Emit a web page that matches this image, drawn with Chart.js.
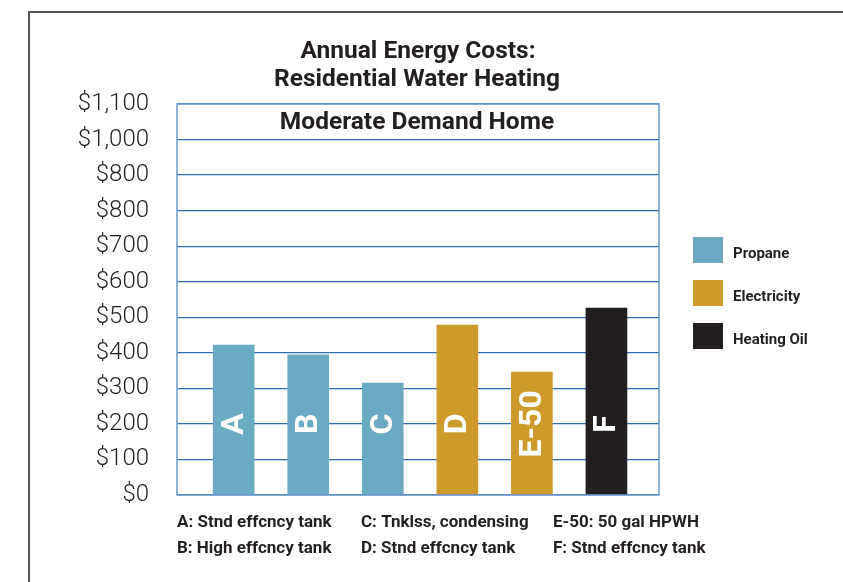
<!DOCTYPE html>
<html>
<head>
<meta charset="utf-8">
<title>Annual Energy Costs: Residential Water Heating</title>
<script src="https://cdn.jsdelivr.net/npm/chart.js@4.4.0/dist/chart.umd.min.js"></script>
<style>
    html, body { margin: 0; padding: 0; background: #ffffff; }
    #chart { display: block; }
</style>
</head>
<body>
<canvas id="chart" width="843" height="582"></canvas>
<script>
    'use strict';

    // chart data
    const categories = ['A', 'B', 'C', 'D', 'E-50', 'F'];
    const fuels = ['Propane', 'Propane', 'Propane', 'Electricity', 'Electricity', 'Heating Oil'];
    const annualCost = [422, 394, 315, 478, 346, 526];

    const fuelTypes = ['Propane', 'Electricity', 'Heating Oil'];
    const fuelColors = ['#6aabc3', '#cd9a2b', '#231f20'];

    // tick labels as printed (the $900 line is labelled $800 in the original)
    const yTickLabels = ['$0', '$100', '$200', '$300', '$400', '$500', '$600', '$700', '$800', '$800', '$1,000', '$1,100'];

    const titleLines = ['Annual Energy Costs:', 'Residential Water Heating'];
    const subTitle = 'Moderate Demand Home';
    const footnotes = [
        ['A: Stnd effcncy tank', 'B: High effcncy tank'],
        ['C: Tnklss, condensing', 'D: Stnd effcncy tank'],
        ['E-50: 50 gal HPWH', 'F: Stnd effcncy tank']
    ];

    const textColor = '#231f20';
    const gridBlue = '#2f6db0';
    const frameBlue = '#6b9acb';
    const font = 'Roboto, "Liberation Sans", sans-serif';

    let barColors = fuels.map(function (f) {
        return fuelColors[fuelTypes.indexOf(f)];
    });

    let decorations = {
        id: 'decorations',
        beforeDraw: function (chart) {
            let ctx = chart.ctx;
            ctx.save();
            // outer frame (left and top edges only)
            ctx.strokeStyle = '#555555';
            ctx.lineWidth = 2;
            ctx.beginPath();
            ctx.moveTo(29, 600);
            ctx.lineTo(29, 12);
            ctx.lineTo(860, 12);
            ctx.stroke();

            // title
            ctx.fillStyle = textColor;
            ctx.textAlign = 'center';
            ctx.textBaseline = 'middle';
            ctx.font = 'bold 24.5px ' + font;
            ctx.fillText(titleLines[0], 418, 52);
            ctx.fillText(titleLines[1], 417, 80);
            ctx.restore();
        },
        afterDatasetsDraw: function (chart) {
            let ctx = chart.ctx;
            let area = chart.chartArea;
            ctx.save();

            // plot frame
            ctx.strokeStyle = frameBlue;
            ctx.lineWidth = 1.5;
            ctx.strokeRect(area.left, area.top, area.right - area.left, area.bottom - area.top);

            // subtitle inside the plot
            ctx.fillStyle = textColor;
            ctx.textAlign = 'center';
            ctx.textBaseline = 'middle';
            ctx.font = 'bold 24.5px ' + font;
            ctx.fillText(subTitle, (area.left + area.right) / 2 - 1, 123);

            // category letters on the bars
            let meta = chart.getDatasetMeta(0);
            let yMid = chart.scales.y.getPixelForValue(200);
            ctx.fillStyle = '#ffffff';
            ctx.font = 'bold 32px ' + font;
            meta.data.forEach(function (bar, i) {
                ctx.save();
                ctx.translate(bar.x + 1, yMid);
                ctx.rotate(-Math.PI / 2);
                ctx.fillText(categories[i], 0, 0);
                ctx.restore();
            });

            // legend
            ctx.textAlign = 'left';
            ctx.font = 'bold 15px ' + font;
            fuelTypes.forEach(function (name, i) {
                let top = 237 + i * 43;
                ctx.fillStyle = fuelColors[i];
                ctx.fillRect(693, top, 30, 26);
                ctx.fillStyle = textColor;
                ctx.fillText(name, 733, top + 17);
            });

            // footnotes
            let colX = [177, 361, 553];
            ctx.font = 'bold 17px ' + font;
            footnotes.forEach(function (col, c) {
                col.forEach(function (line, r) {
                    ctx.fillText(line, colX[c], 523 + r * 26);
                });
            });
            ctx.restore();
        }
    };

    new Chart(document.getElementById('chart'), {
        type: 'bar',
        data: {
            datasets: [{
                label: 'Annual energy cost',
                data: annualCost.map(function (v, i) { return { x: i, y: v }; }),
                backgroundColor: barColors,
                borderWidth: 0,
                barThickness: 41
            }]
        },
        options: {
            responsive: false,
            animation: false,
            layout: {
                padding: { left: 0, top: 104, right: 184, bottom: 87 }
            },
            plugins: {
                legend: { display: false },
                tooltip: { enabled: false }
            },
            scales: {
                x: {
                    type: 'linear',
                    display: false,
                    offset: false,
                    min: -0.76,
                    max: 5.705
                },
                y: {
                    min: 0,
                    max: 1100,
                    afterFit: function (scale) {
                        scale.width = 177;
                    },
                    ticks: {
                        stepSize: 100,
                        padding: 28,
                        color: textColor,
                        font: { family: font, size: 24, weight: '300' },
                        callback: function (value) {
                            return yTickLabels[Math.round(value / 100)];
                        }
                    },
                    grid: {
                        color: gridBlue,
                        lineWidth: 1.2,
                        drawTicks: false
                    },
                    border: { display: false }
                }
            }
        },
        plugins: [decorations]
    });
</script>
</body>
</html>
